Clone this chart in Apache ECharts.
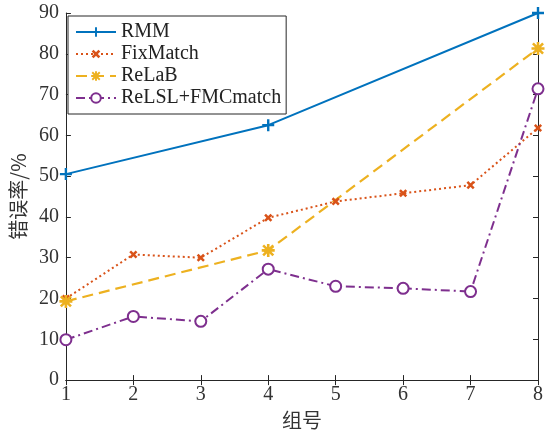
<!DOCTYPE html>
<html><head><meta charset="utf-8">
<script src="https://cdn.jsdelivr.net/npm/echarts@6/dist/echarts.min.js"></script>
<style>html,body{margin:0;padding:0;background:#fff}#c{width:554px;height:435px}</style>
</head><body><div id="c"></div>
<script>
// ---- data ----
const groups = [1, 2, 3, 4, 5, 6, 7, 8];
const rmmX = [1, 4, 8];
const rmmY = [50.5, 62.5, 90];
const fixY = [20, 30.8, 30, 39.8, 43.8, 45.8, 47.8, 61.8];
const relabX = [1, 4, 8];
const relabY = [19.3, 31.8, 81.3];
const relslY = [9.9, 15.6, 14.4, 27.2, 23.0, 22.5, 21.7, 71.4];
const seriesNames = ['RMM', 'FixMatch', 'ReLaB', 'ReLSL+FMCmatch'];
const xTitle = '组号';
const yTitle = '错误率/%';

const C = ['#0072BD', '#D95319', '#EDB120', '#7E2F8E'];
const AX = '#262626';
const serif = '"Liberation Serif", "DejaVu Serif", serif';
const cjk = '"Noto Sans CJK SC", sans-serif';

const plusPath = 'path://M4,0H6V10H4Z M0,4H10V6H0Z';
const xPath = 'path://M3.6,0H6.4V10H3.6Z M0,3.6H10V6.4H0Z';
const starPath = 'path://M4,0H6V10H4Z M0,4H10V6H0Z M1.8,0.4L9.6,8.2L8.2,9.6L0.4,1.8Z M8.2,0.4L9.6,1.8L1.8,9.6L0.4,8.2Z';

const pair = (xs, ys) => xs.map((x, i) => [x, ys[i]]);

const chart = echarts.init(document.getElementById('c'), null, {renderer: 'canvas'});
const tickAxis = (extra) => Object.assign({
  axisLine: {show: true, lineStyle: {color: AX, width: 1}},
  axisTick: {show: true, inside: true, length: 5, lineStyle: {color: AX}},
  splitLine: {show: false}
}, extra);

chart.setOption({
  animation: false,
  backgroundColor: '#fff',
  grid: {left: 64, right: 16, top: 13, bottom: 44, containLabel: false},
  legend: {
    orient: 'vertical', left: 68, top: 16,
    backgroundColor: '#fff', borderColor: AX, borderWidth: 1,
    padding: [6, 5, 6, 7],
    itemWidth: 40, itemHeight: 12, itemGap: 2,
    textStyle: {fontFamily: serif, fontSize: 20, color: '#222', lineHeight: 20},
    data: seriesNames
  },
  xAxis: [
    tickAxis({type: 'value', min: 1, max: 8, interval: 1, position: 'bottom',
      name: xTitle, nameLocation: 'middle', nameGap: 22,
      nameTextStyle: {fontFamily: cjk, fontSize: 20, color: '#333'},
      axisLabel: {fontFamily: serif, fontSize: 20, color: '#333', margin: 5}}),
    tickAxis({type: 'value', min: 1, max: 8, interval: 1, position: 'top',
      axisLabel: {show: false}})
  ],
  yAxis: [
    tickAxis({type: 'value', min: 0, max: 90, interval: 10, position: 'left',
      name: yTitle, nameLocation: 'middle', nameGap: 36, nameRotate: 90,
      nameTextStyle: {fontFamily: cjk, fontSize: 20, color: '#333'},
      axisLabel: {fontFamily: serif, fontSize: 20, color: '#333', margin: 7}}),
    tickAxis({type: 'value', min: 0, max: 90, interval: 10, position: 'right',
      axisLabel: {show: false}})
  ],
  series: [
    {name: seriesNames[0], type: 'line', data: pair(rmmX, rmmY), clip: false,
     symbol: plusPath, symbolSize: 12,
     lineStyle: {color: C[0], width: 2, type: 'solid'},
     itemStyle: {color: C[0]}},
    {name: seriesNames[1], type: 'line', data: pair(groups, fixY), clip: false,
     symbol: xPath, symbolSize: 9, symbolRotate: 45,
     lineStyle: {color: C[1], width: 2, type: [2, 3]},
     itemStyle: {color: C[1]}},
    {name: seriesNames[2], type: 'line', data: pair(relabX, relabY), clip: false,
     symbol: starPath, symbolSize: 13,
     lineStyle: {color: C[2], width: 2.2, type: [11, 6]},
     itemStyle: {color: C[2]}},
    {name: seriesNames[3], type: 'line', data: pair(groups, relslY), clip: false,
     symbol: 'emptyCircle', symbolSize: 11,
     lineStyle: {color: C[3], width: 2, type: [9, 4, 2, 4]},
     itemStyle: {color: C[3], borderColor: C[3], borderWidth: 2}}
  ]
});
</script></body></html>
